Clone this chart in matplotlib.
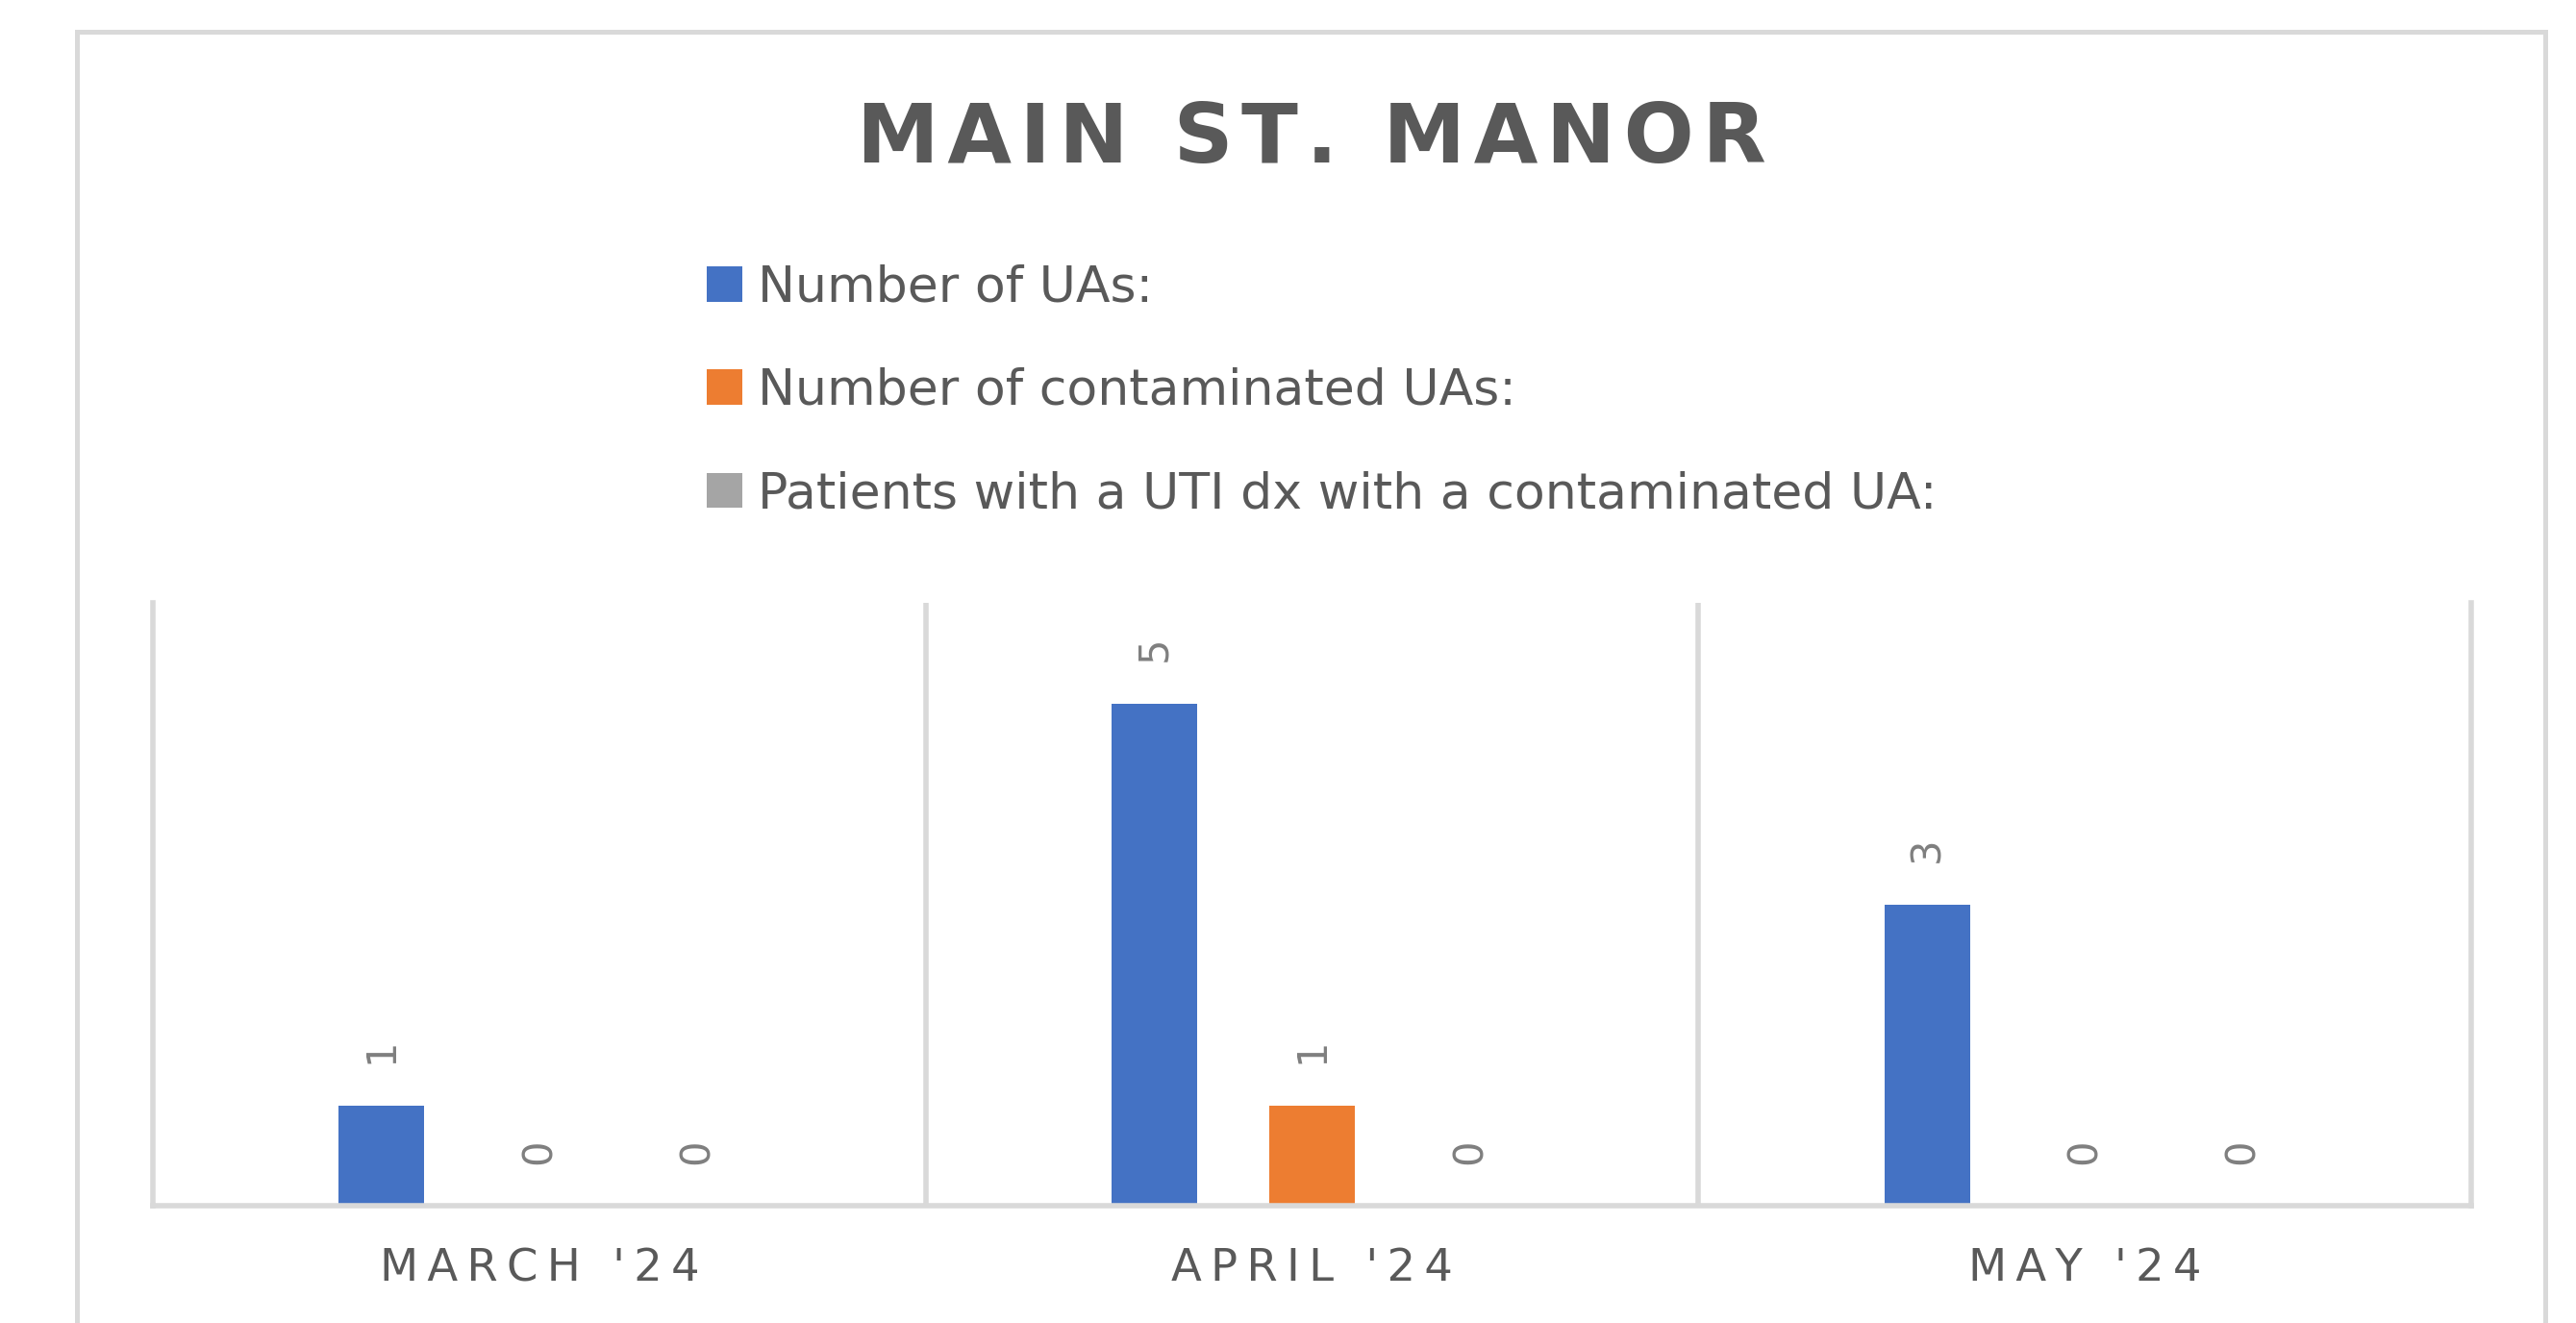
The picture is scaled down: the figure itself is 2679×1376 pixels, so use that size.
import numpy as np
import matplotlib.pyplot as plt
from matplotlib.patches import Rectangle

plt.rcParams["font.family"] = "DejaVu Sans"

months = ["MARCH '24", "APRIL '24", "MAY '24"]
series_names = [
    "Number of UAs:",
    "Number of contaminated UAs:",
    "Patients with a UTI dx with a contaminated UA:",
]
num_uas = [1, 5, 3]
num_contaminated = [0, 1, 0]
uti_with_contaminated = [0, 0, 0]

colors = ["#4472C4", "#ED7D31", "#A5A5A5"]
grid_color = "#D9D9D9"
text_color = "#595959"


def spaced(s, sep="\u2009"):
    # excel-style letter spacing
    return sep.join(s)


W, H = 2679, 1376
fig = plt.figure(figsize=(W / 100, H / 100), dpi=100)
ax = fig.add_axes([159 / W, 1 - 1254 / H, (2570 - 159) / W, (1254 - 627) / H])

x = np.arange(len(months))
width = 0.111
offsets = [-0.204, 0.0, 0.204]
bars = []
for vals, off, c, name in zip(
    [num_uas, num_contaminated, uti_with_contaminated], offsets, colors, series_names
):
    b = ax.bar(x + off, vals, width, color=c, label=name)
    ax.bar_label(b, padding=31, rotation=90, fontsize=30, color="#7F7F7F")
    bars.append(b)

ax.set_xlim(-0.5, 2.5)
ax.set_ylim(0, 6)
ax.set_yticks([])
ax.set_xticks(x, [spaced(m) for m in months], fontsize=33.5, color=text_color)
ax.set_xticks([0.5, 1.5], minor=True)
ax.grid(which="minor", axis="x", color=grid_color, lw=4)
ax.tick_params(which="both", length=0)
ax.tick_params(axis="x", pad=31)
ax.spines["top"].set_visible(False)
for s in ["left", "right", "bottom"]:
    ax.spines[s].set_color(grid_color)
    ax.spines[s].set_linewidth(4)

fig.text(
    0.509, 1 - 145 / H, spaced("MAIN ST. MANOR", "\u200a"),
    ha="center", va="center", fontsize=62, fontweight="bold", color=text_color,
)

fig.legend(
    handles=bars,
    labels=series_names,
    loc="center left",
    bbox_to_anchor=(735 / W, 1 - 407 / H),
    frameon=False,
    fontsize=37.5,
    handlelength=0.71,
    handleheight=0.71,
    handletextpad=0.3,
    labelspacing=1.1,
    borderpad=0,
    borderaxespad=0,
    labelcolor=text_color,
)

# outer chart border, runs off the bottom of the image
top = 1 - 33 / H
fig.add_artist(
    Rectangle(
        (80 / W, -0.1), (2647 - 80) / W, top + 0.1,
        transform=fig.transFigure, fill=False, ec=grid_color, lw=3.6,
    )
)

fig.savefig("out.png", dpi=100)
